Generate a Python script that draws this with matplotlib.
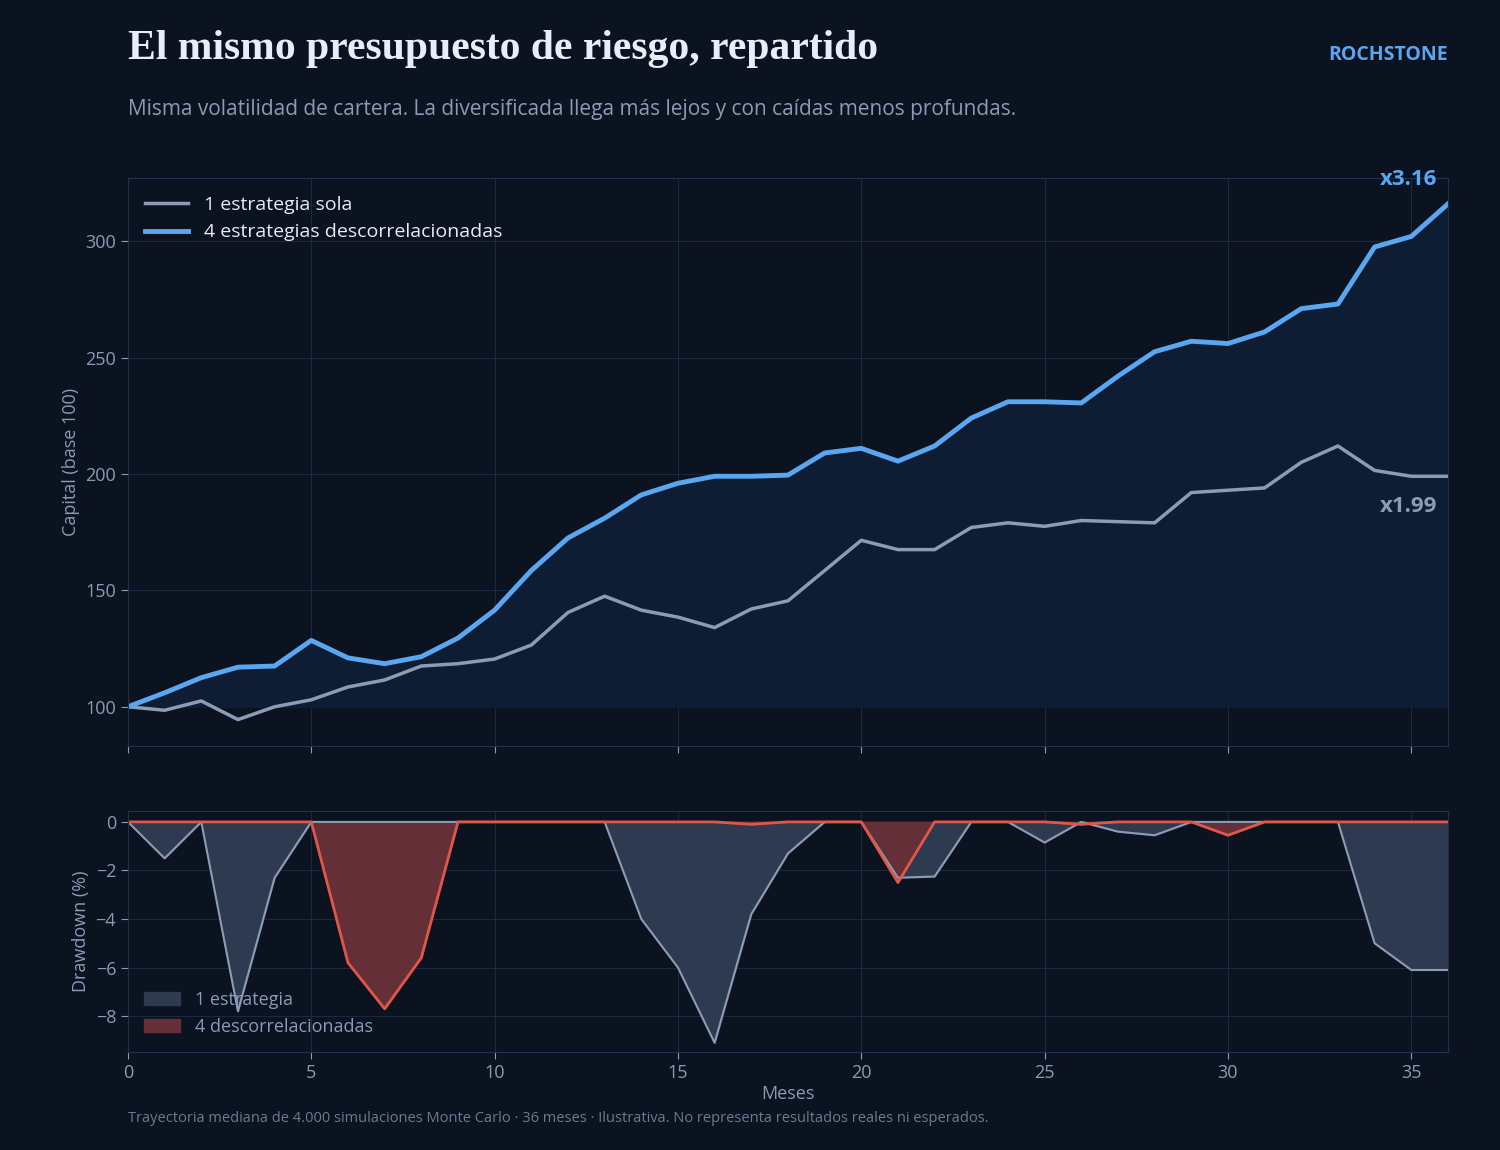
import matplotlib.pyplot as plt

months = list(range(37))
cap_single = [100, 98.5, 102.5, 94.5, 100, 103, 108.5, 111.5, 117.5, 118.5, 120.5, 126.5,
              140.5, 147.5, 141.5, 138.5, 134, 142, 145.5, 158.5, 171.5, 167.5, 167.5, 177,
              179, 177.5, 180, 179.5, 179, 192, 193, 194, 205, 212, 201.5, 199, 199]
cap_multi = [100, 106, 112.5, 117, 117.5, 128.5, 121, 118.5, 121.5, 129.5, 141.5, 158.5,
             172.5, 181, 191, 196, 199, 199, 199.5, 209, 211, 205.5, 212, 224,
             231, 231, 230.5, 242, 252.5, 257, 256, 261, 271, 273, 297.5, 302, 316]
dd_single = [0, -1.5, 0, -7.8, -2.3, 0, 0, 0, 0, 0, 0, 0, 0, 0, -4, -6, -9.1, -3.8, -1.3,
             0, 0, -2.3, -2.25, 0, 0, -0.85, 0, -0.4, -0.55, 0, 0, 0, 0, 0, -5, -6.1, -6.1]
dd_multi = [0, 0, 0, 0, 0, 0, -5.8, -7.7, -5.6, 0, 0, 0, 0, 0, 0, 0, 0, -0.1, 0, 0, 0,
            -2.5, 0, 0, 0, 0, -0.1, 0, 0, 0, -0.55, 0, 0, 0, 0, 0, 0]

BG = '#0b1220'
GRID = '#1a2940'
TXT = '#8a9bb5'
GRAY = '#8d9cb4'
BLUE = '#5aa6f0'
RED = '#e0574a'

plt.rcParams['font.family'] = ['Open Sans', 'DejaVu Sans']

fig = plt.figure(figsize=(15, 11.5), dpi=100, facecolor=BG)
ax = fig.add_axes([0.0853, 0.351, 0.88, 0.494], facecolor=BG)
ax2 = fig.add_axes([0.0853, 0.0852, 0.88, 0.2096], facecolor=BG)

for a in (ax, ax2):
    a.grid(True, color=GRID, lw=0.8)
    a.set_axisbelow(True)
    for s in a.spines.values():
        s.set_color('#22324d')
    a.tick_params(colors=TXT, labelsize=13, length=5)
    a.set_xlim(0, 36)

ax.fill_between(months, 100, cap_multi, color='#0e1d33')
ax.plot(months, cap_single, color=GRAY, lw=2.5, label='1 estrategia sola')
ax.plot(months, cap_multi, color=BLUE, lw=3.5, label='4 estrategias descorrelacionadas')
ax.set_ylim(83, 327)
ax.set_yticks([100, 150, 200, 250, 300])
ax.set_xticks([0, 5, 10, 15, 20, 25, 30, 35])
ax.tick_params(axis='x', labelbottom=False)
ax.set_ylabel('Capital (base 100)', color=TXT, fontsize=13)
leg = ax.legend(loc='upper left', frameon=False, fontsize=14, handlelength=2.2)
for t in leg.get_texts():
    t.set_color('#e6ecf5')
ax.text(35.7, 322, f'x{cap_multi[-1] / 100:.2f}', color=BLUE, fontsize=16,
        fontweight='bold', ha='right', va='bottom')
ax.text(35.7, 186, f'x{cap_single[-1] / 100:.2f}', color=GRAY, fontsize=16,
        fontweight='bold', ha='right', va='center')

ax2.fill_between(months, dd_single, 0, color='#2e3a4f', label='1 estrategia')
ax2.plot(months, dd_single, color=GRAY, lw=1.5)
ax2.fill_between(months, dd_multi, 0, color='#642f36', label='4 descorrelacionadas')
ax2.plot(months, dd_multi, color=RED, lw=2)
ax2.set_ylim(-9.48, 0.45)
ax2.set_yticks([0, -2, -4, -6, -8])
ax2.set_xticks([0, 5, 10, 15, 20, 25, 30, 35])
ax2.set_ylabel('Drawdown (%)', color=TXT, fontsize=13)
ax2.set_xlabel('Meses', color=TXT, fontsize=13, labelpad=2)
leg2 = ax2.legend(loc='lower left', frameon=False, fontsize=13)
for t in leg2.get_texts():
    t.set_color(TXT)

fig.text(0.0853, 0.957, 'El mismo presupuesto de riesgo, repartido', color='#e8eef7',
         fontsize=30, fontweight='bold', family='Liberation Serif', va='center')
fig.text(0.0853, 0.905, 'Misma volatilidad de cartera. La diversificada llega más lejos y con caídas menos profundas.',
         color=TXT, fontsize=15, va='center')
fig.text(0.965, 0.952, 'ROCHSTONE', color=BLUE, fontsize=14, fontweight='bold',
         ha='right', va='center')
fig.text(0.0853, 0.027, 'Trayectoria mediana de 4.000 simulaciones Monte Carlo · 36 meses · '
         'Ilustrativa. No representa resultados reales ni esperados.',
         color='#6b7a93', fontsize=10.5, va='center')

fig.savefig('out.png', facecolor=BG)
